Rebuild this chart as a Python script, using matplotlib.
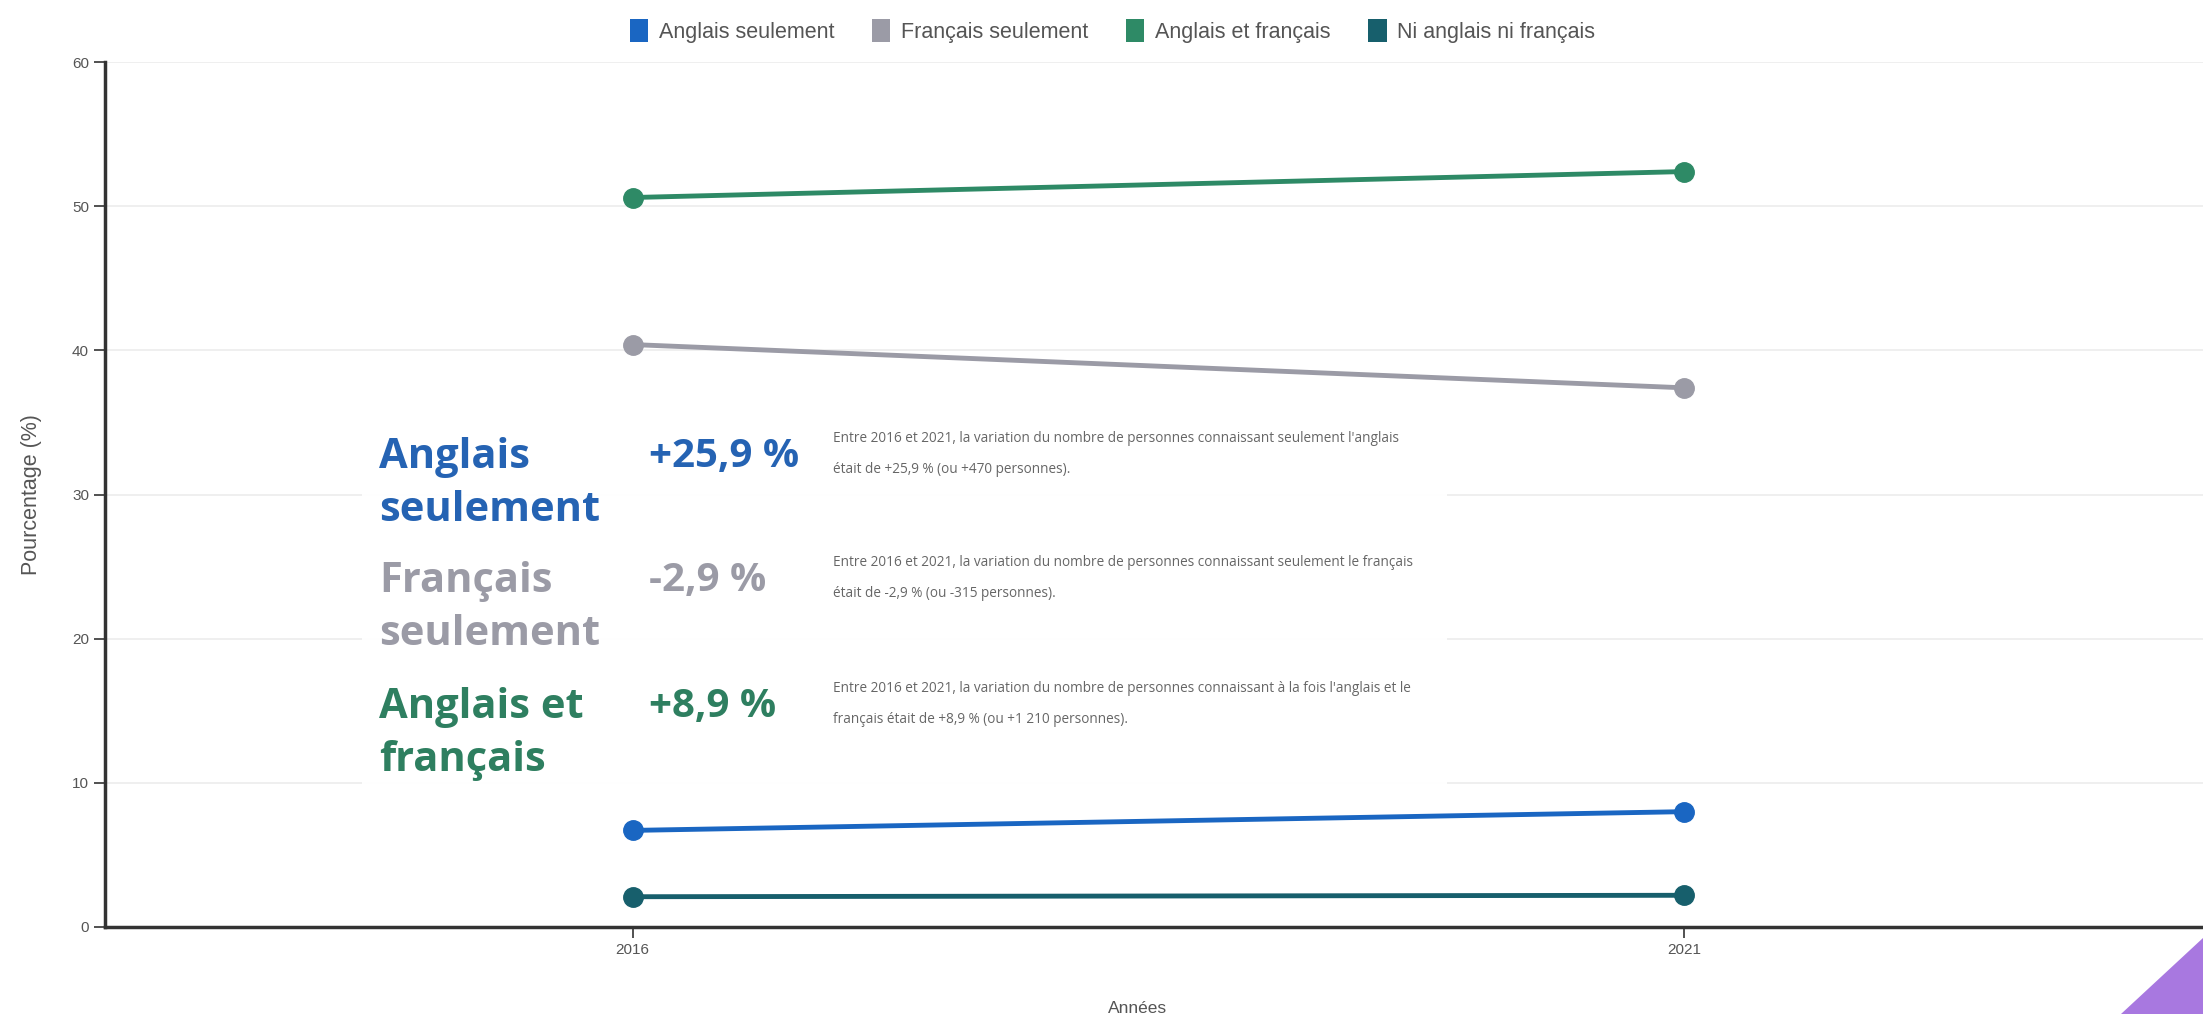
import numpy as np
import matplotlib.pyplot as plt
from matplotlib.patches import Patch, Rectangle, Polygon

# Données (pourcentage de la population)
annees = [2016, 2021]
series = ['Anglais seulement', 'Français seulement', 'Anglais et français', 'Ni anglais ni français']
anglais_seul = [6.7, 8.0]
francais_seul = [40.4, 37.4]
anglais_et_francais = [50.6, 52.4]
ni_l_un_ni_l_autre = [2.1, 2.2]
couleurs = ['#1a66c2', '#9b9ba6', '#2e8a66', '#175f6c']

# Encadré de variation
etiquettes = ['Anglais\nseulement', 'Français\nseulement', 'Anglais et\nfrançais']
variations = ['+25,9 %', '-2,9 %', '+8,9 %']
descriptions = [
    "Entre 2016 et 2021, la variation du nombre de personnes connaissant seulement l'anglais\n"
    "était de +25,9 % (ou +470 personnes).",
    "Entre 2016 et 2021, la variation du nombre de personnes connaissant seulement le français\n"
    "était de -2,9 % (ou -315 personnes).",
    "Entre 2016 et 2021, la variation du nombre de personnes connaissant à la fois l'anglais et le\n"
    "français était de +8,9 % (ou +1 210 personnes).",
]
couleurs_etiq = ['#2563b3', '#9b9ba6', '#2e7f60']

plt.rcParams['font.family'] = ['Liberation Sans', 'DejaVu Sans']

fig = plt.figure(figsize=(22.03, 10.14), dpi=100)
ax = fig.add_axes([105 / 2203, 87 / 1014, 1 - 105 / 2203, (927 - 62) / 1014])

valeurs = [anglais_seul, francais_seul, anglais_et_francais, ni_l_un_ni_l_autre]
for nom, v, c in zip(series, valeurs, couleurs):
    ax.plot(annees, v, color=c, lw=3.5, marker='o', ms=14, label=nom, zorder=3)

ax.set_xlim(2013.49, 2023.47)
ax.set_ylim(0, 60)
ax.set_xticks(annees)
ax.set_yticks(np.arange(0, 61, 10))
ax.tick_params(colors='#333333', labelcolor='#555555', labelsize=11, length=8, width=1.2)
ax.grid(axis='y', color='#ececec', lw=1.2)
ax.set_axisbelow(True)
for s in ['top', 'right']:
    ax.spines[s].set_visible(False)
for s in ['left', 'bottom']:
    ax.spines[s].set_color('#333333')
    ax.spines[s].set_linewidth(2.5)
ax.set_ylabel('Pourcentage (%)', fontsize=15.5, color='#555555')
ax.yaxis.set_label_coords(-0.030, 0.5)
ax.set_xlabel('Années', fontsize=12.5, color='#555555')
ax.xaxis.set_label_coords(0.492, -0.085)

handles = [Patch(facecolor=c, edgecolor='none') for c in couleurs]
fig.legend(handles, series, loc='center', bbox_to_anchor=(0.505, 1 - 31 / 1014), ncol=4,
           frameon=False, fontsize=15.5, handlelength=0.85, handleheight=1.3,
           handletextpad=0.5, columnspacing=1.75, labelcolor='#555555')

# panneau blanc de l'encadré
fig.patches.append(Rectangle((362 / 2203, 1 - 794 / 1014), (1447 - 362) / 2203, (794 - 407) / 1014,
                             transform=fig.transFigure, facecolor='white', edgecolor='none',
                             alpha=0.95, zorder=2))

ys = [456, 580, 706]
for y, lab, var, desc, c in zip(ys, etiquettes, variations, descriptions, couleurs_etiq):
    fig.text(379 / 2203, 1 - (y - 19) / 1014, lab, color=c, fontsize=30, fontweight='bold',
             family=['Open Sans', 'DejaVu Sans'], va='top', ha='left', linespacing=1.38, zorder=4)
    fig.text(649 / 2203, 1 - y / 1014, var, color=c, fontsize=29, fontweight='bold',
             family=['Open Sans', 'DejaVu Sans'], va='center', ha='left', zorder=4)
    fig.text(833 / 2203, 1 - (y - 2) / 1014, desc, color='#666666', fontsize=9.8,
             family=['Open Sans', 'DejaVu Sans'], va='center', ha='left', linespacing=2.5, zorder=4)

# coin décoratif violet
fig.patches.append(Polygon([(2121 / 2203, 0), (1, 0), (1, 76 / 1014)], closed=True,
                           transform=fig.transFigure, facecolor='#a878e0', edgecolor='none', zorder=5))

fig.savefig('out.png', dpi=100)
